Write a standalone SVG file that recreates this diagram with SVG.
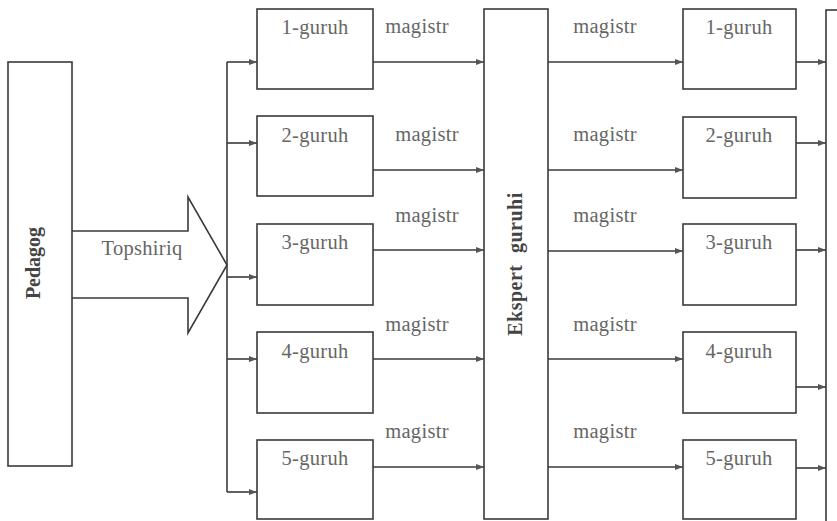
<svg xmlns="http://www.w3.org/2000/svg" width="837" height="521" viewBox="0 0 837 521">
<defs>
<style>
.box{fill:#fff;stroke:#3a3a3a;stroke-width:1.6}
.ln{fill:none;stroke:#3a3a3a;stroke-width:1.6}
.t{font-family:"Liberation Serif",serif;font-size:20.5px;letter-spacing:0.3px;fill:#666;text-anchor:middle}
.tb{font-family:"Liberation Serif",serif;font-size:20px;font-weight:bold;fill:#444;text-anchor:middle}
</style>
<marker id="ah" markerWidth="8" markerHeight="6" refX="8" refY="3" orient="auto" markerUnits="userSpaceOnUse">
<path d="M0,0 L8,3 L0,6 z" fill="#555"/>
</marker>
</defs>
<rect width="837" height="521" fill="#fff"/>

<g id="pedagog">
<rect class="box" x="8" y="62" width="64" height="404"/>
<text class="tb" transform="translate(40,263) rotate(-90)">Pedagog</text>
</g>

<g id="topshiriq">
<path class="ln" d="M72,231 H188 V197 L227,265 L188,333 V298 H72"/>
<text class="t" x="142" y="255">Topshiriq</text>
</g>

<g id="g1-1"><rect class="box" x="257" y="9" width="116" height="80"/><text class="t" x="315" y="34">1-guruh</text></g>
<g id="g1-2"><rect class="box" x="257" y="116" width="116" height="80"/><text class="t" x="315" y="142">2-guruh</text></g>
<g id="g1-3"><rect class="box" x="257" y="224" width="116" height="81"/><text class="t" x="315" y="249">3-guruh</text></g>
<g id="g1-4"><rect class="box" x="257" y="332" width="116" height="81"/><text class="t" x="315" y="358">4-guruh</text></g>
<g id="g1-5"><rect class="box" x="257" y="440" width="116" height="79"/><text class="t" x="315" y="465">5-guruh</text></g>

<g id="ekspert">
<rect class="box" x="484" y="9" width="64" height="510"/>
<text class="tb" transform="translate(522,264) rotate(-90)" style="word-spacing:6px;letter-spacing:0.5px">Ekspert guruhi</text>
</g>

<g id="g2-1"><rect class="box" x="683" y="9" width="113" height="80"/><text class="t" x="739" y="34">1-guruh</text></g>
<g id="g2-2"><rect class="box" x="683" y="117" width="113" height="81"/><text class="t" x="739" y="142">2-guruh</text></g>
<g id="g2-3"><rect class="box" x="683" y="224" width="113" height="81"/><text class="t" x="739" y="249">3-guruh</text></g>
<g id="g2-4"><rect class="box" x="683" y="332" width="113" height="81"/><text class="t" x="739" y="358">4-guruh</text></g>
<g id="g2-5"><rect class="box" x="683" y="440" width="113" height="79"/><text class="t" x="739" y="465">5-guruh</text></g>

<g id="right-bar"><rect class="box" x="826" y="10" width="20" height="520"/></g>

<g id="connectors">
<path class="ln" d="M227,62 V492"/>
<path class="ln" d="M227,62 H257" marker-end="url(#ah)"/>
<path class="ln" d="M227,143 H257" marker-end="url(#ah)"/>
<path class="ln" d="M227,277 H257" marker-end="url(#ah)"/>
<path class="ln" d="M227,359 H257" marker-end="url(#ah)"/>
<path class="ln" d="M227,492 H257" marker-end="url(#ah)"/>

<path class="ln" d="M373,62 H484" marker-end="url(#ah)"/>
<path class="ln" d="M373,170 H484" marker-end="url(#ah)"/>
<path class="ln" d="M373,250 H484" marker-end="url(#ah)"/>
<path class="ln" d="M373,359 H484" marker-end="url(#ah)"/>
<path class="ln" d="M373,467 H484" marker-end="url(#ah)"/>

<path class="ln" d="M548,62 H683" marker-end="url(#ah)"/>
<path class="ln" d="M548,170 H683" marker-end="url(#ah)"/>
<path class="ln" d="M548,251 H683" marker-end="url(#ah)"/>
<path class="ln" d="M548,359 H683" marker-end="url(#ah)"/>
<path class="ln" d="M548,467 H683" marker-end="url(#ah)"/>

<path class="ln" d="M796,62 H826" marker-end="url(#ah)"/>
<path class="ln" d="M796,143 H826" marker-end="url(#ah)"/>
<path class="ln" d="M796,250 H826" marker-end="url(#ah)"/>
<path class="ln" d="M796,387 H826" marker-end="url(#ah)"/>
<path class="ln" d="M796,468 H826" marker-end="url(#ah)"/>

<text class="t" x="417" y="33">magistr</text>
<text class="t" x="427" y="141">magistr</text>
<text class="t" x="427" y="222">magistr</text>
<text class="t" x="417" y="331">magistr</text>
<text class="t" x="417" y="438">magistr</text>

<text class="t" x="605" y="33">magistr</text>
<text class="t" x="605" y="141">magistr</text>
<text class="t" x="605" y="222">magistr</text>
<text class="t" x="605" y="331">magistr</text>
<text class="t" x="605" y="438">magistr</text>
</g>
</svg>
